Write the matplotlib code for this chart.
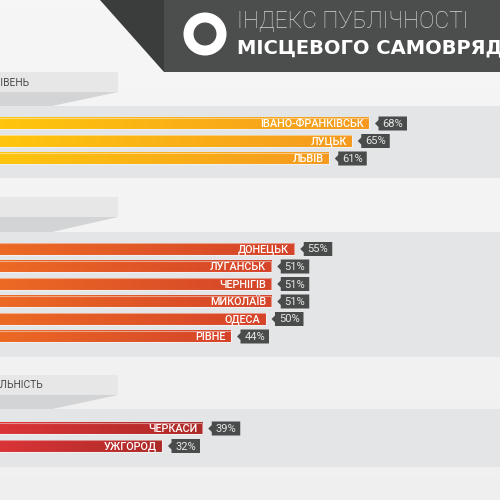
import numpy as np
import matplotlib
matplotlib.use("Agg")
import matplotlib.pyplot as plt
from matplotlib.patches import Polygon, Rectangle, Wedge
from matplotlib.colors import LinearSegmentedColormap

# ---- data -----------------------------------------------------------------
title_top = "ІНДЕКС ПУБЛІЧНОСТІ"
title_bottom = "МІСЦЕВОГО САМОВРЯДУВАННЯ"
section_names = ["ВИСОКИЙ РІВЕНЬ", "ЗАДОВІЛЬНИЙ", "НЕЗАДОВІЛЬНІСТЬ"]

high_cities = ["ІВАНО-ФРАНКІВСЬК", "ЛУЦЬК", "ЛЬВІВ"]
high_values = [68, 65, 61]
mid_cities = ["ДОНЕЦЬК", "ЛУГАНСЬК", "ЧЕРНІГІВ", "МИКОЛАЇВ", "ОДЕСА", "РІВНЕ"]
mid_values = [55, 51, 51, 51, 50, 44]
low_cities = ["ЧЕРКАСИ", "УЖГОРОД"]
low_values = [39, 32]

# ---- layout (pixels, y grows downwards) -------------------------------------
W = H = 500
PX_PER_PCT = 5.75
PCT_AT_ZERO = 22 / PX_PER_PCT
X0, X1 = PCT_AT_ZERO, PCT_AT_ZERO + W / PX_PER_PCT
PX = (X1 - X0) / W          # value units per pixel

groups = [
    dict(cities=high_cities, values=high_values, band=(106, 178), label=(72, 92),
         label_end=29, first=123.5, colors=("#ffc80c", "#f59a1f")),
    dict(cities=mid_cities, values=mid_values, band=(232, 357), label=(197, 217),
         label_end=-4, first=249.0, colors=("#ee6d23", "#d5432a")),
    dict(cities=low_cities, values=low_values, band=(409, 467), label=(375, 395),
         label_end=43, first=428.5, colors=("#e0363a", "#ac2a27")),
]
STEP = 17.5
BAR_H = 11.5

fig = plt.figure(figsize=(5, 5), dpi=100)
fig.patch.set_facecolor("#f2f2f2")

bg = fig.add_axes([0, 0, 1, 1])
bg.set_xlim(0, W)
bg.set_ylim(H, 0)
bg.axis("off")

# soft background shading
shade = np.linspace(0.965, 0.94, 64)[:, None] * np.ones((1, 64))
bg.imshow(np.dstack([shade] * 3), extent=(0, W, H, 0), aspect="auto", zorder=0)

# header
bg.add_patch(Polygon([(100, 0), (164, 0), (164, 72)], closed=True,
                     facecolor="#3b3c3c", edgecolor="none", zorder=1))
bg.add_patch(Rectangle((164, 0), W - 164, 72, facecolor="#4c4d4d",
                       edgecolor="none", zorder=1))
bg.add_patch(Wedge((205, 34), 21.5, 0, 360, width=10, facecolor="white",
                   edgecolor="none", zorder=2))
bg.text(237, 22, title_top, color="#d4d4d4", fontsize=16.4, family="Roboto",
        weight="light", va="center", ha="left", zorder=3)
bg.text(237, 47.5, title_bottom, color="white", fontsize=14,
        family="DejaVu Sans", weight="bold", va="center", ha="left", zorder=3)

# section labels and bands
for g, name in zip(groups, section_names):
    lt, lb = g["label"]
    bt, bb = g["band"]
    bg.add_patch(Rectangle((0, bt), W, bb - bt, facecolor="#e4e5e6",
                           edgecolor="none", zorder=1))
    bg.add_patch(Polygon([(0, lb), (118, lb), (52, bt), (0, bt)], closed=True,
                         facecolor="#d3d4d5", edgecolor="none", zorder=1))
    bg.add_patch(Rectangle((0, lt), 118, lb - lt, facecolor="#e7e7e7",
                           edgecolor="none", zorder=2))
    bg.text(g["label_end"], (lt + lb) / 2 + 0.5, name, color="#4a4a4a",
            fontsize=7.4, family="Roboto", ha="right", va="center", zorder=3)

# bars
ax = fig.add_axes([0, 0, 1, 1])
ax.set_xlim(X0, X1)
ax.set_ylim(H, 0)
ax.axis("off")
ax.patch.set_alpha(0)

for g in groups:
    cmap = LinearSegmentedColormap.from_list("g", list(g["colors"]))
    grad = np.linspace(0, 1, 256)[None, :]
    for i, (city, val) in enumerate(zip(g["cities"], g["values"])):
        yc = g["first"] + i * STEP
        top, bot = yc - BAR_H / 2, yc + BAR_H / 2
        ax.imshow(grad, cmap=cmap, extent=(0, val, bot, top), aspect="auto",
                  interpolation="bilinear", zorder=2)
        ax.barh(yc, val, height=BAR_H, left=0, facecolor="none",
                edgecolor=(1, 1, 1, 0.45), linewidth=0.8, zorder=3)
        ax.text(val - 5 * PX, yc + 0.5, city, color="white", fontsize=7.8,
                family="Roboto", weight="medium", ha="right", va="center",
                zorder=4)
        # value tag with arrow
        tip, base, right = val + 6 * PX, val + 9.5 * PX, val + 38 * PX
        ax.add_patch(Polygon([(tip, yc), (base, yc - 3.5), (base, yc - 7),
                              (right, yc - 7), (right, yc + 7),
                              (base, yc + 7), (base, yc + 3.5)], closed=True,
                             facecolor="#4a4b4b", edgecolor="none", zorder=3))
        ax.text((base + right) / 2, yc + 0.5, f"{val}%", color="#e8e8e8",
                fontsize=8, family="Roboto", ha="center", va="center",
                zorder=4)

fig.savefig("out.png", dpi=100, facecolor=fig.get_facecolor())
